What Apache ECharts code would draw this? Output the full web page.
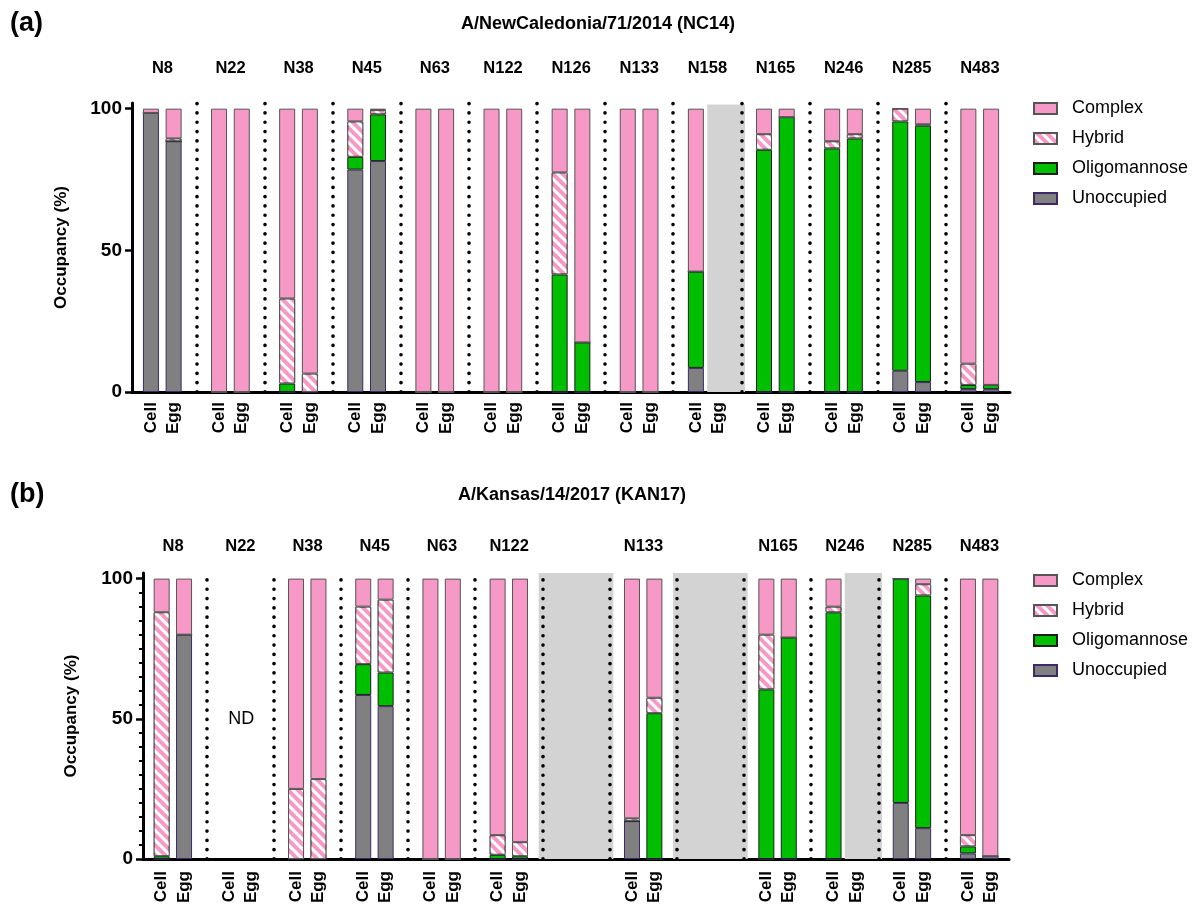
<!DOCTYPE html>
<html>
<head>
<meta charset="utf-8">
<script src="https://cdn.jsdelivr.net/npm/echarts@6/dist/echarts.min.js"></script>
<style>
  html, body { margin: 0; padding: 0; background: #fff; }
  #chart { width: 1195px; height: 909px; }
</style>
</head>
<body>
<div id="chart"></div>
<script>
// glycosylation sites (b: empty string = site not shown, greyed out)
var sitesA = ["N8", "N22", "N38", "N45", "N63", "N122", "N126", "N133", "N158", "N165", "N246", "N285", "N483"];
var sitesB = ["N8", "N22", "N38", "N45", "N63", "N122", "", "N133", "", "N165", "N246", "N285", "N483"];
var hosts = ["Cell", "Egg"];

// values listed Cell, Egg for each site, in % (null = no data)
var unoccupiedA = [98.5, 88.5, 0, 0, 0, 0, 78.5, 81.5, 0, 0, 0, 0, 0, 0, 0, 0, 8.5, null, 0, 0, 0, 0, 7.5, 3.5, 1, 1];
var oligomannoseA = [0, 0, 0, 0, 3, 0, 4.5, 16.5, 0, 0, 0, 0, 41.5, 17.5, 0, 0, 34, null, 85.5, 97, 86, 89.5, 88, 90.5, 1.5, 1.5];
var hybridA = [0, 1, 0, 0, 30, 6.5, 12.5, 1.5, 0, 0, 0, 0, 36, 0, 0, 0, 0, null, 5.5, 0, 2.5, 1.5, 4.5, 0.5, 7.5, 0];
var complexA = [1.5, 10.5, 100, 100, 67, 93.5, 4.5, 0.5, 100, 100, 100, 100, 22.5, 82.5, 100, 100, 57.5, null, 9, 3, 11.5, 9, 0, 5.5, 90, 97.5];

var unoccupiedB = [0, 80, null, null, 0, 0, 58.5, 54.5, 0, 0, 0, 0, null, null, 13.5, 0, null, null, 0, 0, 0, null, 20, 11, 2, 1];
var oligomannoseB = [1, 0, null, null, 0, 0, 11, 12, 0, 0, 1.5, 1, null, null, 0, 52, null, null, 60.5, 79, 88, null, 80, 83, 2.5, 0];
var hybridB = [87, 0, null, null, 25, 28.5, 20.5, 26, 0, 0, 7, 5, null, null, 1, 5.5, null, null, 19.5, 0, 2, null, 0, 4, 4, 0];
var complexB = [12, 20, null, null, 75, 71.5, 10, 7.5, 100, 100, 91.5, 94, null, null, 85.5, 42.5, null, null, 20, 21, 10, null, 0, 2, 91.5, 99];

// greyed (not available) regions: [site index, "all" | "Egg"]
var greyA = [[8, "Egg"]];
var greyB = [[6, "all"], [8, "all"], [10, "Egg"]];
var ndSitesB = [1];

var yTicks = [0, 50, 100];
var yMinorTicks = [5, 10, 15, 20, 25, 30, 35, 40, 45, 55, 60, 65, 70, 75, 80, 85, 90, 95];

var FONT = "'Liberation Sans', Arial, sans-serif";
var PINK = "#F799C6";
var GREEN = "#00BE00";
var GREY = "#808080";

// every site takes 9 narrow slots: Cell at 2, Egg at 5, divider at 8
function slotCount(sites) { return sites.length * 9 - 1; }

function buildCategories(sites) {
  var cats = [];
  for (var i = 0; i < slotCount(sites); i++) cats.push("s" + i);
  sites.forEach(function (s, g) {
    if (!s) return;
    cats[g * 9 + 2] = s + "|" + hosts[0];
    cats[g * 9 + 5] = s + "|" + hosts[1];
  });
  return cats;
}

function spread(vals, sites) {
  var out = [];
  for (var i = 0; i < slotCount(sites); i++) out.push(null);
  for (var g = 0; g < sites.length; g++) {
    out[g * 9 + 2] = vals[g * 2];
    out[g * 9 + 5] = vals[g * 2 + 1];
  }
  return out;
}

function dividers(sites) {
  var lines = [];
  for (var g = 0; g < sites.length - 1; g++) {
    lines.push([{ xAxis: g * 9 + 8, yAxis: 0 }, { xAxis: g * 9 + 8, yAxis: 102 }]);
  }
  return lines;
}

function greyAreas(list, top) {
  return list.map(function (d) {
    var g = d[0];
    var from = d[1] === "all" ? g * 9 - 1 : g * 9 + 4;
    return [{ xAxis: from, yAxis: 0 }, { xAxis: g * 9 + 8, yAxis: top }];
  });
}

var hatch = {
  symbol: "rect",
  symbolSize: 1,
  color: "#ffffff",
  dashArrayX: [1, 0],
  dashArrayY: [3, 4],
  rotation: Math.PI / 4
};

function panelSeries(p, sites, data, grey, top) {
  var xi = p * 2;
  var yi = p === 0 ? 0 : 1;
  var defs = [
    { name: "Unoccupied", vals: data[0], color: GREY, border: "#3b2a66" },
    { name: "Oligomannose", vals: data[1], color: GREEN, border: "#1e1e1e" },
    { name: "Hybrid", vals: data[2], color: PINK, border: "#555555", decal: hatch },
    { name: "Complex", vals: data[3], color: PINK, border: "#555555" }
  ];
  return defs.map(function (d, k) {
    var s = {
      name: d.name,
      type: "bar",
      stack: "panel" + p,
      xAxisIndex: xi,
      yAxisIndex: yi,
      barWidth: 16,
      data: spread(d.vals, sites),
      itemStyle: { color: d.color, borderColor: d.border, borderWidth: 1 },
      emphasis: { disabled: true }
    };
    if (d.decal) s.itemStyle.decal = d.decal;
    if (k === 0) {
      s.markArea = {
        silent: true,
        itemStyle: { color: "#D3D3D3" },
        data: greyAreas(grey, top)
      };
      s.markLine = {
        silent: true,
        symbol: ["none", "none"],
        label: { show: false },
        lineStyle: { color: "#000", width: 3.6, type: [0.1, 9.2], cap: "round" },
        emphasis: { disabled: true },
        data: dividers(sites)
      };
    }
    return s;
  });
}

function bottomAxis(grid, sites, margin) {
  return {
    type: "category",
    gridIndex: grid,
    position: "bottom",
    data: buildCategories(sites),
    axisLine: { lineStyle: { color: "#000", width: 3 } },
    axisTick: { show: false },
    axisLabel: {
      interval: 0, rotate: 90, margin: margin,
      color: "#000", fontWeight: "bold", fontSize: 17, fontFamily: FONT,
      formatter: function (v) { var p = v.split("|"); return p.length > 1 ? p[1] : ""; }
    }
  };
}

function topAxis(grid, sites, margin) {
  return {
    type: "category",
    gridIndex: grid,
    position: "top",
    data: buildCategories(sites),
    axisLine: { show: false },
    axisTick: { show: false },
    axisLabel: {
      interval: 0, margin: margin, padding: [0, 0, 0, 23],
      color: "#000", fontWeight: "bold", fontSize: 16.5, fontFamily: FONT,
      formatter: function (v) { var p = v.split("|"); return p[1] === hosts[0] ? p[0] : ""; }
    }
  };
}

function valueAxis(grid, nameGap) {
  return {
    type: "value",
    gridIndex: grid,
    position: "left",
    min: 0,
    max: 102,
    name: "Occupancy (%)",
    nameLocation: "middle",
    nameGap: nameGap,
    nameTextStyle: { color: "#000", fontWeight: "bold", fontSize: 17, fontFamily: FONT },
    axisLine: { show: true, lineStyle: { color: "#000", width: 3 } },
    axisTick: { show: true, length: 7, lineStyle: { color: "#000", width: 2.5 }, customValues: yTicks },
    axisLabel: { margin: 10, color: "#000", fontWeight: "bold", fontSize: 19, fontFamily: FONT, customValues: yTicks },
    splitLine: { show: false }
  };
}

var chartDom = document.getElementById("chart");
var myChart = echarts.init(chartDom, null, { renderer: "canvas" });
var option;

var legendNames = ["Complex", "Hybrid", "Oligomannose", "Unoccupied"];
var legendBase = {
  orient: "vertical",
  left: 1033,
  padding: 0,
  itemWidth: 23,
  itemHeight: 11,
  itemGap: 9,
  icon: "rect",
  selectedMode: false,
  textStyle: { color: "#000", fontSize: 18, fontFamily: FONT, lineHeight: 21, padding: [0, 0, 0, 10] },
  data: legendNames
};

var seriesB = panelSeries(1, sitesB, [unoccupiedB, oligomannoseB, hybridB, complexB], greyB, 102);
seriesB[0].markPoint = {
  silent: true,
  symbolSize: 0,
  label: { show: true, formatter: "ND", color: "#000", fontSize: 18, fontFamily: FONT, offset: [5, 0] },
  data: ndSitesB.map(function (g) { return { coord: [g * 9 + 3, 50] }; })
};

option = {
  backgroundColor: "#fff",
  animation: false,
  title: [
    { text: "(a)", left: 5, top: 5, textStyle: { fontSize: 27, fontWeight: "bold", color: "#000", fontFamily: FONT } },
    { text: "A/NewCaledonia/71/2014 (NC14)", left: 456, top: 10, textStyle: { fontSize: 18, fontWeight: "bold", color: "#000", fontFamily: FONT } },
    { text: "(b)", left: 5, top: 476, textStyle: { fontSize: 27, fontWeight: "bold", color: "#000", fontFamily: FONT } },
    { text: "A/Kansas/14/2017 (KAN17)", left: 453, top: 481, textStyle: { fontSize: 18, fontWeight: "bold", color: "#000", fontFamily: FONT } }
  ],
  legend: [
    Object.assign({}, legendBase, { top: 98 }),
    Object.assign({}, legendBase, { top: 570 })
  ],
  grid: [
    { left: 132, width: 878, top: 103, height: 289 },
    { left: 143, width: 866, top: 573, height: 286 }
  ],
  xAxis: [
    bottomAxis(0, sitesA, 10),
    topAxis(0, sitesA, 26),
    bottomAxis(1, sitesB, 12),
    topAxis(1, sitesB, 18)
  ],
  yAxis: [
    valueAxis(0, 62),
    valueAxis(1, 63),
    {
      type: "value", gridIndex: 1, position: "left", min: 0, max: 102,
      axisLine: { show: false },
      axisTick: { show: true, length: 4, lineStyle: { color: "#000", width: 2 }, customValues: yMinorTicks },
      axisLabel: { show: false },
      splitLine: { show: false }
    }
  ],
  series: panelSeries(0, sitesA, [unoccupiedA, oligomannoseA, hybridA, complexA], greyA, 101.5).concat(seriesB)
};

option && myChart.setOption(option);
</script>
</body>
</html>
